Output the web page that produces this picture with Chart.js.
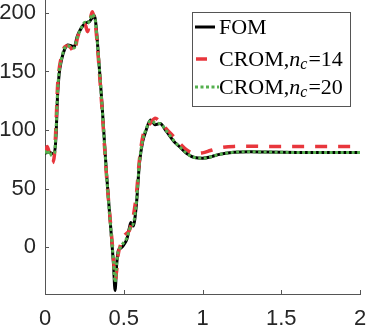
<!DOCTYPE html>
<html>
<head>
<meta charset="utf-8">
<script src="https://cdn.jsdelivr.net/npm/chart.js@4"></script>
<style>
  html, body { margin: 0; padding: 0; background: #fff; }
  canvas { display: block; }
</style>
</head>
<body>
<canvas id="chart" width="366" height="332"></canvas>
<script>
// time axis (shared by all series)
const time = [0, 0.015, 0.03, 0.045, 0.06, 0.07, 0.08, 0.09, 0.105, 0.125,
    0.145, 0.165, 0.185, 0.205, 0.23, 0.255, 0.27, 0.285, 0.3, 0.31,
    0.32, 0.33, 0.36, 0.39, 0.42, 0.435, 0.445, 0.455, 0.465, 0.48,
    0.5, 0.52, 0.535, 0.545, 0.56, 0.58, 0.6, 0.62, 0.64, 0.67,
    0.7, 0.73, 0.77, 0.82, 0.86, 0.9, 0.95, 1.0, 1.05, 1.1,
    1.2, 1.3, 1.4, 1.6, 1.8, 2.0];

const fom = [80, 81, 81, 80, 81, 95, 130, 148, 160, 169,
    172.5, 172, 171, 180, 187, 191, 192, 193, 196, 198,
    194, 180, 126, 64, 12, -15, -37, -15, -3, -1,
    2, 7, 16, 21, 18, 36, 72, 90, 99, 108.5,
    104.5, 105.5, 99, 90, 85, 80, 76.5, 76, 77, 79,
    81, 81.5, 81.2, 80.8, 80.7, 80.7];

const crom14 = [82, 86, 78, 72, 79, 105, 138, 152, 163, 171,
    172, 170, 166, 178, 188, 190, 184, 193, 201, 197,
    190, 176, 122, 62, 14, -10, -28, -20, -6, 2,
    9, 12, 14, 18, 26, 45, 75, 94, 101, 106,
    110, 107, 101, 94, 88, 83, 80, 80.5, 82.5, 84.5,
    86, 86.2, 86, 86, 86, 86];

const crom20 = [80, 83, 78, 80, 80, 100, 133, 150, 161, 170,
    172, 171, 170, 179, 187, 192, 191, 194, 199, 197,
    193, 179, 125, 63, 12, -12, -30, -14, -4, 0,
    4, 8, 14, 18, 20, 38, 73, 91, 100, 108,
    106, 105.5, 99.5, 90.5, 85, 80, 76.5, 76, 77, 79,
    81, 81.5, 81.2, 80.8, 80.7, 80.7];

const xTicks = [0, 0.5, 1, 1.5, 2];
const yTicks = [0, 50, 100, 150, 200];

const axisColor = '#262626';
const tickFont = { family: "'Liberation Sans', Arial, sans-serif", size: 22 };
const legendFont = "22px 'Liberation Serif', 'Times New Roman', serif";

function toPoints(values) {
    return values.map(function(v, i) { return { x: time[i], y: v }; });
}

// MATLAB-style inward tick marks
const inwardTicks = {
    id: 'inwardTicks',
    afterDraw: function(chart) {
        const ctx = chart.ctx;
        const area = chart.chartArea;
        const xs = chart.scales.x, ys = chart.scales.y;
        ctx.save();
        ctx.strokeStyle = '#555';
        ctx.lineWidth = 1;
        ctx.beginPath();
        xTicks.forEach(function(v) {
            const px = Math.round(xs.getPixelForValue(v)) + 0.5;
            ctx.moveTo(px, area.bottom);
            ctx.lineTo(px, area.bottom - 4);
        });
        yTicks.forEach(function(v) {
            const py = Math.round(ys.getPixelForValue(v)) + 0.5;
            ctx.moveTo(area.left, py);
            ctx.lineTo(area.left + 4, py);
        });
        ctx.stroke();
        ctx.restore();
    }
};

// boxed legend inside the plot, top right
const boxLegend = {
    id: 'boxLegend',
    afterDraw: function(chart) {
        const ctx = chart.ctx;
        const bx = 192.5, by = 12.5, bw = 158, bh = 94;
        ctx.save();
        ctx.fillStyle = '#fff';
        ctx.fillRect(bx, by, bw, bh);
        ctx.strokeStyle = '#555';
        ctx.lineWidth = 1;
        ctx.strokeRect(bx, by, bw, bh);

        const rows = [
            { y: 27, ds: chart.data.datasets[0], x1: 195, x2: 215, text: 'FOM' },
            { y: 59, ds: chart.data.datasets[1], x1: 196, x2: 207, label: '14' },
            { y: 87, ds: chart.data.datasets[2], x1: 195, x2: 219, label: '20' }
        ];
        rows.forEach(function(r) {
            ctx.strokeStyle = r.ds.borderColor;
            ctx.lineWidth = r.ds.borderWidth;
            ctx.setLineDash(r.ds.borderDash || []);
            ctx.beginPath();
            ctx.moveTo(r.x1, r.y);
            ctx.lineTo(r.x2, r.y);
            ctx.stroke();
            ctx.setLineDash([]);

            ctx.fillStyle = '#000';
            ctx.textBaseline = 'middle';
            let tx = 219;
            ctx.font = legendFont;
            if (r.text) {
                ctx.fillText(r.text, tx, r.y + 1);
                return;
            }
            ctx.fillText('CROM,', tx, r.y + 1);
            tx += ctx.measureText('CROM,').width;
            ctx.font = "italic " + legendFont;
            ctx.fillText('n', tx, r.y + 1);
            tx += ctx.measureText('n').width;
            ctx.font = "italic 16px 'Liberation Serif', serif";
            ctx.fillText('c', tx, r.y + 6);
            tx += ctx.measureText('c').width + 1;
            ctx.font = legendFont;
            ctx.fillText('=' + r.label, tx, r.y + 1);
        });
        ctx.restore();
    }
};

const ctx = document.getElementById('chart').getContext('2d');

new Chart(ctx, {
    type: 'line',
    data: {
        datasets: [{
            label: 'FOM',
            data: toPoints(fom),
            borderColor: '#000000',
            borderWidth: 3,
            order: 3
        }, {
            label: 'CROM,nc=14',
            data: toPoints(crom14),
            borderColor: '#e8363c',
            borderWidth: 3.5,
            borderDash: [12, 11],
            order: 2
        }, {
            label: 'CROM,nc=20',
            data: toPoints(crom20),
            borderColor: '#55b04f',
            borderWidth: 3,
            borderDash: [3, 2.5],
            order: 1
        }]
    },
    options: {
        responsive: false,
        animation: false,
        layout: { padding: { top: 0, right: 6, left: 0, bottom: 0 } },
        elements: {
            point: { radius: 0 },
            line: { cubicInterpolationMode: 'monotone', fill: false }
        },
        plugins: {
            legend: { display: false },
            tooltip: { enabled: false }
        },
        scales: {
            x: {
                type: 'linear',
                min: 0,
                max: 2,
                afterBuildTicks: function(scale) {
                    scale.ticks = xTicks.map(function(v) { return { value: v }; });
                },
                afterFit: function(scale) {
                    scale.height = 38;
                    scale.paddingLeft = 0;
                    scale.paddingRight = 0;
                },
                ticks: {
                    color: axisColor,
                    font: tickFont,
                    padding: 12,
                    maxRotation: 0,
                    callback: function(v) { return String(v); }
                },
                grid: { display: false, drawTicks: false },
                border: { display: true, color: '#555', width: 1 }
            },
            y: {
                type: 'linear',
                min: -40,
                max: 211,
                afterBuildTicks: function(scale) {
                    scale.ticks = yTicks.map(function(v) { return { value: v }; });
                },
                afterFit: function(scale) {
                    scale.width = 45;
                    scale.paddingTop = 0;
                    scale.paddingBottom = 0;
                },
                ticks: {
                    color: axisColor,
                    font: tickFont,
                    padding: 9,
                    callback: function(v) { return String(v); }
                },
                grid: { display: false, drawTicks: false },
                border: { display: true, color: '#555', width: 1 }
            }
        }
    },
    plugins: [inwardTicks, boxLegend]
});
</script>
</body>
</html>
